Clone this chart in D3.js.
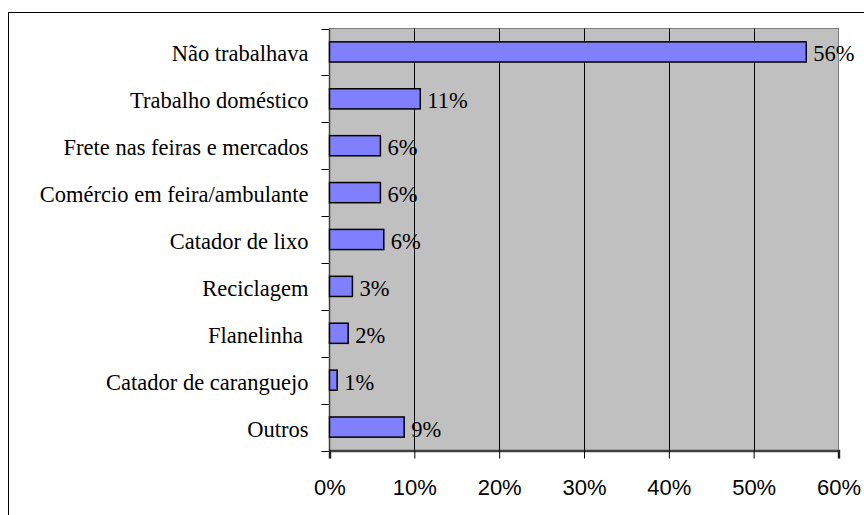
<!DOCTYPE html>
<html><head><meta charset="utf-8">
<script src="https://cdn.jsdelivr.net/npm/d3@7/dist/d3.min.js"></script>
<style>body{margin:0;background:#fff}svg{display:block}
.serif{font-family:"Liberation Serif","Tinos","Times New Roman",Times,"DejaVu Serif",serif;font-size:22.5px;fill:#000}
.sans{font-family:"Liberation Sans",Arimo,Arial,Helvetica,sans-serif;font-size:22px;fill:#000}
</style>
</head><body><svg id="c" width="864" height="515"></svg>
<script>
const categories = ["Não trabalhava","Trabalho doméstico","Frete nas feiras e mercados","Comércio em feira/ambulante","Catador de lixo","Reciclagem","Flanelinha ","Catador de caranguejo","Outros"];
const values = [56.2, 10.7, 6.0, 6.0, 6.4, 2.7, 2.2, 0.9, 8.8];
const valueLabels = ["56%","11%","6%","6%","6%","3%","2%","1%","9%"];
const xTicks = [0,10,20,30,40,50,60];

const svg = d3.select("#c");
const L = 329.5, R = 838.5, T = 28.5, B = 450.5;
svg.append("rect").attr("x",8.5).attr("y",12.5).attr("width",900).attr("height",600)
  .attr("fill","#fff").attr("stroke","#000").attr("stroke-width",1);

const x = d3.scaleLinear().domain([0,60]).range([L,R]);
const y = d3.scaleBand().domain(categories).range([T,B]).paddingInner(0.57).paddingOuter(0.285);

svg.append("rect").attr("x",L).attr("y",T).attr("width",R-L).attr("height",B-T)
  .attr("fill","#C0C0C0").attr("stroke","#808080").attr("stroke-width",1);

svg.append("g").selectAll("line").data(xTicks.slice(1,-1)).join("line")
  .attr("x1",d=>Math.round(x(d))+0.5).attr("x2",d=>Math.round(x(d))+0.5)
  .attr("y1",T).attr("y2",B).attr("stroke","#000").attr("stroke-width",1);

const bounds = d3.range(categories.length+1).map(i=>T+i*(B-T)/categories.length);
svg.append("g").selectAll("line").data(bounds).join("line")
  .attr("x1",L-8).attr("x2",L).attr("y1",d=>Math.round(d)+0.5).attr("y2",d=>Math.round(d)+0.5)
  .attr("stroke","#000").attr("stroke-width",1);
svg.append("line").attr("x1",L).attr("x2",L).attr("y1",T).attr("y2",B).attr("stroke","#404040").attr("stroke-width",1.5);

const xAxis = d3.axisBottom(x).tickValues(xTicks).tickFormat(d=>d+"%").tickSize(8).tickPadding(21);
const gx = svg.append("g").attr("transform",`translate(0,${B})`).call(xAxis);
gx.attr("font-family",null).attr("font-size",null);
gx.select(".domain").attr("stroke","#404040").attr("stroke-width",2.5);
gx.selectAll(".tick line").attr("stroke","#000");
gx.selectAll("text").attr("class","sans");

svg.append("g").selectAll("rect").data(values).join("rect")
  .attr("x",x(0)).attr("y",(d,i)=>y(categories[i]))
  .attr("width",d=>x(d)-x(0)).attr("height",y.bandwidth())
  .attr("fill","#8080FF").attr("stroke","#000").attr("stroke-width",1.5);

svg.append("g").selectAll("text").data(categories).join("text")
  .attr("class","serif")
  .attr("x",L-21).attr("y",d=>y(d)+y.bandwidth()/2+9.5)
  .attr("text-anchor","end").attr("xml:space","preserve").style("white-space","pre")
  .text(d=>d);

svg.append("g").selectAll("text").data(values).join("text")
  .attr("class","serif")
  .attr("x",d=>x(d)+7).attr("y",(d,i)=>y(categories[i])+y.bandwidth()/2+9.5)
  .text((d,i)=>valueLabels[i]);
</script></body></html>
